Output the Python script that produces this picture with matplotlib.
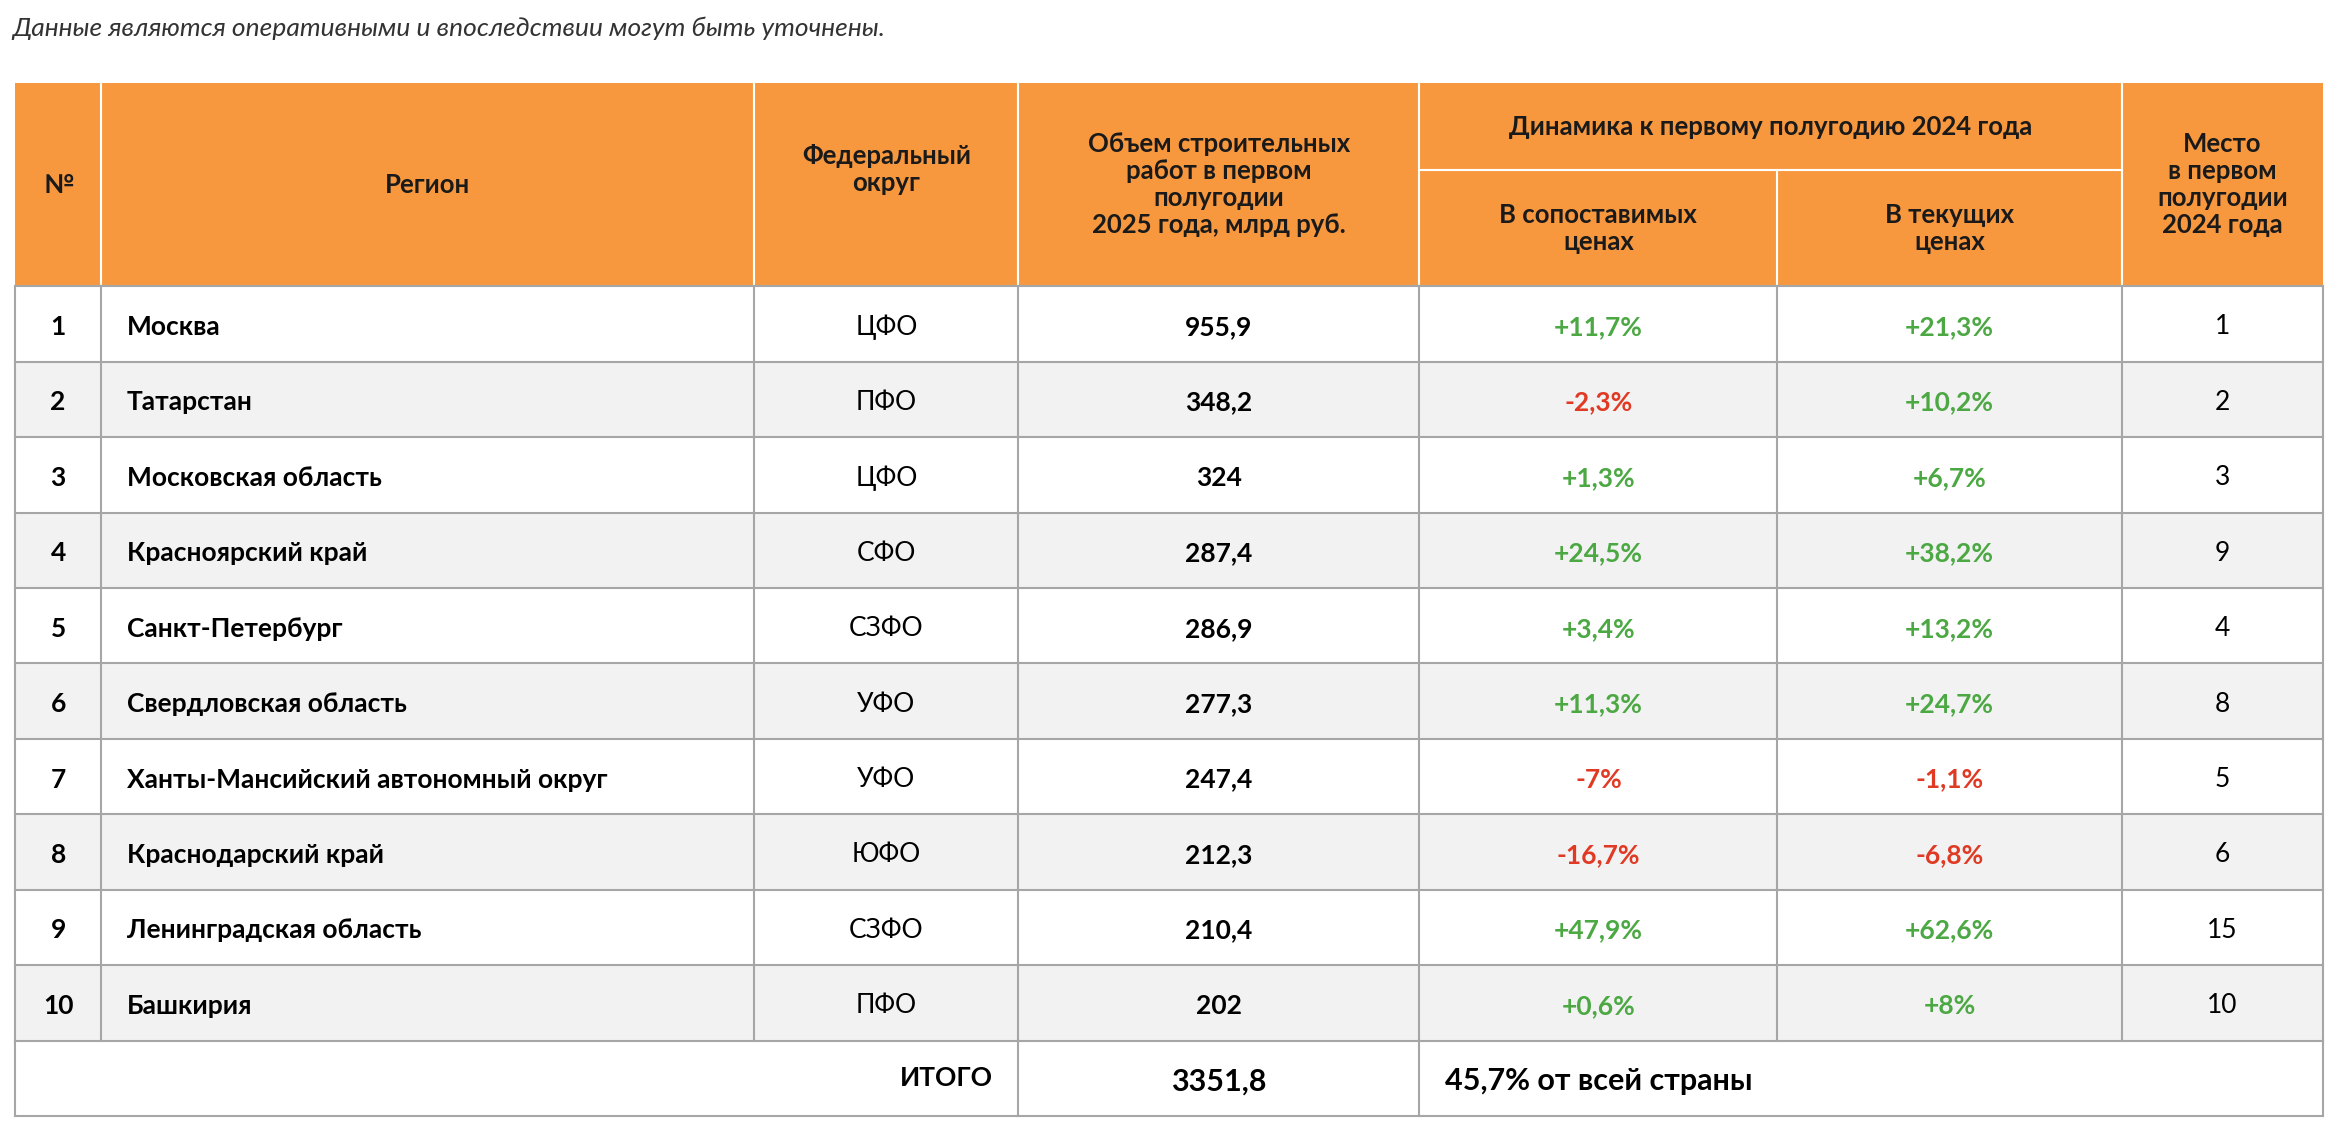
import matplotlib
matplotlib.use('Agg')
import matplotlib.pyplot as plt
from matplotlib.patches import Rectangle

# ==============================================================================
# Data
#
ranks = ['1', '2', '3', '4', '5', '6', '7', '8', '9', '10']
regions = ['Москва', 'Татарстан', 'Московская область', 'Красноярский край',
           'Санкт-Петербург', 'Свердловская область',
           'Ханты-Мансийский автономный округ', 'Краснодарский край',
           'Ленинградская область', 'Башкирия']
districts = ['ЦФО', 'ПФО', 'ЦФО', 'СФО', 'СЗФО', 'УФО', 'УФО', 'ЮФО', 'СЗФО', 'ПФО']
volumes = ['955,9', '348,2', '324', '287,4', '286,9', '277,3', '247,4', '212,3',
           '210,4', '202']
comparable = ['+11,7%', '-2,3%', '+1,3%', '+24,5%', '+3,4%', '+11,3%', '-7%',
              '-16,7%', '+47,9%', '+0,6%']
current = ['+21,3%', '+10,2%', '+6,7%', '+38,2%', '+13,2%', '+24,7%', '-1,1%',
           '-6,8%', '+62,6%', '+8%']
places_2024 = ['1', '2', '3', '9', '4', '8', '5', '6', '15', '10']
total_volume = '3351,8'
total_share = '45,7% от всей страны'
note = 'Данные являются оперативными и впоследствии могут быть уточнены.'

# ==============================================================================
# Layout (display units, 1568 x 758)
#
W, H = 1568, 758
COLS = [10, 68, 506, 683, 952, 1192, 1423, 1558]
HEAD_TOP, HEAD_MID, HEAD_BOT = 56, 114, 192
ROW_H = 50.6
ORANGE = '#F7983F'
GREY = '#F2F2F2'
LINE = '#A6A6A6'
GREEN = '#4CA843'
RED = '#E03A24'
FONT = 'Lato'
FS = 19
HFS = 18.5

plt.rcParams['font.family'] = FONT
fig = plt.figure(figsize=(23.38, 11.30), dpi=100)
ax = fig.add_axes([0, 0, 1, 1])
ax.set_xlim(0, W)
ax.set_ylim(H, 0)
ax.axis('off')

def cx(i):
    return (COLS[i] + COLS[i + 1]) / 2

ax.text(8, 19, note, fontsize=FS, style='italic', color='#333333',
        va='center', ha='left')
                                                                        # header
ax.add_patch(Rectangle((COLS[0], HEAD_TOP), COLS[-1] - COLS[0],
                       HEAD_BOT - HEAD_TOP, color=ORANGE, lw=0))
for x in COLS[1:-1]:
    if x == COLS[5]:
        ax.plot([x, x], [HEAD_MID, HEAD_BOT], color='white', lw=1.5)
    else:
        ax.plot([x, x], [HEAD_TOP, HEAD_BOT], color='white', lw=1.5)
ax.plot([COLS[4], COLS[6]], [HEAD_MID, HEAD_MID], color='white', lw=1.5)
hc = (HEAD_TOP + HEAD_BOT) / 2
hk = dict(fontsize=HFS, fontweight='bold', color='#1a1a1a', ha='center',
          va='center', linespacing=1.15)
ax.text(cx(0), hc, '№', **hk)
ax.text(cx(1), hc, 'Регион', **hk)
ax.text(cx(2), hc - 10, 'Федеральный\nокруг', **hk)
ax.text(cx(3), hc, 'Объем строительных\nработ в первом\nполугодии\n2025 года, млрд руб.', **hk)
ax.text((COLS[4] + COLS[6]) / 2, (HEAD_TOP + HEAD_MID) / 2,
        'Динамика к первому полугодию 2024 года', **hk)
ax.text(cx(4), (HEAD_MID + HEAD_BOT) / 2, 'В сопоставимых\nценах', **hk)
ax.text(cx(5), (HEAD_MID + HEAD_BOT) / 2, 'В текущих\nценах', **hk)
ax.text(cx(6), hc, 'Место\nв первом\nполугодии\n2024 года', **hk)
                                                                          # rows
for i in range(len(regions)):
    top = HEAD_BOT + i * ROW_H
    y = top + ROW_H / 2 + 2
    if i % 2 == 1:
        ax.add_patch(Rectangle((COLS[0], top), COLS[-1] - COLS[0], ROW_H,
                               color=GREY, lw=0))
    ax.text(cx(0), y, ranks[i], fontsize=FS, fontweight='bold', ha='center', va='center')
    ax.text(COLS[1] + 17, y, regions[i], fontsize=FS, fontweight='bold', ha='left', va='center')
    ax.text(cx(2), y, districts[i], fontsize=FS, ha='center', va='center')
    ax.text(cx(3), y, volumes[i], fontsize=FS, fontweight='bold', ha='center', va='center')
    ax.text(cx(4), y, comparable[i], fontsize=FS, fontweight='bold', ha='center',
            va='center', color=RED if comparable[i].startswith('-') else GREEN)
    ax.text(cx(5), y, current[i], fontsize=FS, fontweight='bold', ha='center',
            va='center', color=RED if current[i].startswith('-') else GREEN)
    ax.text(cx(6), y, places_2024[i], fontsize=FS, ha='center', va='center')
                                                                         # total
top = HEAD_BOT + len(regions) * ROW_H
bottom = top + ROW_H
y = top + ROW_H / 2
ax.text(COLS[3] - 17, y, 'ИТОГО', fontsize=FS, fontweight='bold', ha='right', va='center')
ax.text(cx(3), y + 2, total_volume, fontsize=FS + 3, fontweight='bold', ha='center', va='center')
ax.text(COLS[4] + 17, y + 2, total_share, fontsize=FS + 3, fontweight='bold', ha='left', va='center')
                                                                    # grid lines
for i in range(len(regions) + 1):
    yy = HEAD_BOT + i * ROW_H
    ax.plot([COLS[0], COLS[-1]], [yy, yy], color=LINE, lw=1.5)
ax.plot([COLS[0], COLS[-1]], [bottom, bottom], color=LINE, lw=1.5)
for x in COLS:
    ax.plot([x, x], [HEAD_BOT, top], color=LINE, lw=1.5)
for x in [COLS[0], COLS[3], COLS[4], COLS[-1]]:
    ax.plot([x, x], [top, bottom], color=LINE, lw=1.5)

plt.savefig('out.png', dpi=100)
